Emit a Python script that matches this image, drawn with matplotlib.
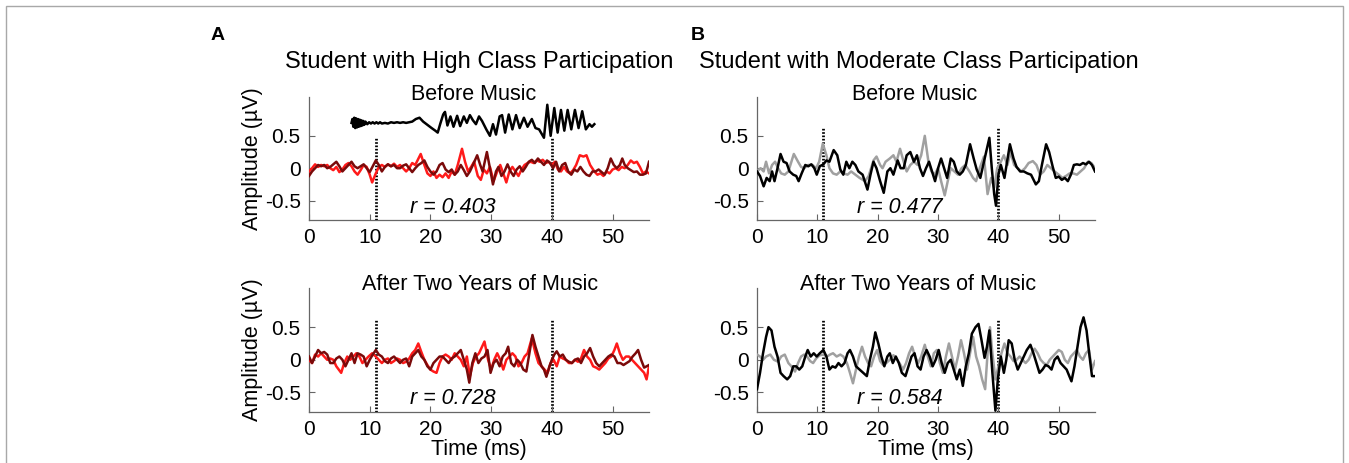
import matplotlib
matplotlib.use("Agg")
import matplotlib.pyplot as plt
from matplotlib.patches import Rectangle

plt.rcParams['font.family'] = ['Liberation Sans', 'DejaVu Sans']

# ---------------- data ----------------
xticks = [0, 10, 20, 30, 40, 50]
yticks = [-0.5, 0, 0.5]
yticklabels = ['-0.5', '0', '0.5']
marker_times = [11, 40]
panel_titles = ['Student with High Class Participation', 'Student with Moderate Class Participation']
row_titles = ['Before Music', 'After Two Years of Music']
r_values = [['r = 0.403', 'r = 0.728'], ['r = 0.477', 'r = 0.584']]

# Panel A, before music
a_pre_red_t = [0, 0.5, 1, 1.5, 2, 2.5, 3, 3.5, 4, 4.5, 5, 5.5, 6, 6.5, 7, 7.5, 8, 8.5, 9, 9.5, 10, 10.4, 11, 11.5, 12, 12.5, 13, 13.5, 14, 14.5, 15, 15.5, 16, 16.5, 17, 17.5, 18.4, 19, 19.5, 20, 20.5, 21, 21.5, 22, 22.5, 23, 23.5, 24, 24.5, 25.2, 25.7, 26.2, 26.7, 27.2, 27.8, 28.3, 28.8, 29.3, 29.8, 30.4, 31, 31.5, 32, 32.5, 33, 33.5, 34, 34.5, 35, 35.5, 36, 36.5, 37, 37.5, 38, 38.5, 39, 39.5, 40, 40.5, 41, 41.5, 42, 42.5, 43, 43.5, 44, 44.6, 45.2, 45.7, 46.3, 47, 47.5, 48, 48.5, 49, 49.5, 50, 50.5, 51, 51.5, 52, 52.5, 53, 53.5, 54, 54.5, 55, 55.5, 56]
a_pre_red_v = [-0.05, 0.0, 0.06, 0.02, 0.05, 0.03, 0.05, 0.0, -0.03, 0.02, -0.06, -0.02, 0.05, 0.08, 0.03, -0.05, -0.1, -0.03, 0.05, 0.02, -0.1, -0.22, -0.08, 0.02, 0.05, 0.02, 0.06, 0.03, 0.07, 0.02, 0.05, 0.0, -0.05, 0.0, 0.08, 0.05, 0.22, 0.05, -0.08, -0.12, -0.05, -0.15, -0.1, -0.14, -0.08, -0.15, -0.05, -0.1, 0.05, 0.3, 0.1, -0.05, 0.02, 0.1, -0.12, -0.18, -0.02, -0.08, 0.02, -0.2, -0.05, 0.05, -0.08, -0.22, -0.05, 0.02, -0.05, -0.12, -0.02, 0.05, 0.08, 0.1, 0.08, 0.12, 0.1, 0.13, 0.08, 0.1, 0.05, 0.1, -0.02, -0.05, 0.02, -0.05, -0.08, -0.03, 0.05, 0.2, 0.18, 0.2, 0.05, -0.05, -0.1, -0.08, -0.12, -0.05, -0.08, -0.02, 0.0, -0.03, 0.02, 0.0, 0.05, 0.12, 0.08, 0.1, 0.02, -0.08, -0.05, -0.08]

a_pre_dark_t = [0, 0.5, 1, 1.5, 2, 2.5, 3, 3.5, 4, 4.5, 5, 5.5, 6, 6.5, 7, 7.5, 8, 8.5, 9, 9.5, 10, 10.5, 11, 11.5, 12, 12.5, 13, 13.5, 14, 14.5, 15, 15.5, 16, 16.5, 17, 17.5, 18, 18.5, 19, 19.5, 20, 20.5, 21, 21.5, 22, 22.5, 23, 23.5, 24, 24.5, 25, 25.5, 26, 26.5, 27, 27.7, 28.2, 28.6, 29.3, 29.8, 30.3, 30.8, 31.2, 31.7, 32.2, 32.7, 33.2, 33.7, 34.2, 34.7, 35.2, 35.7, 36.2, 36.7, 37.2, 37.7, 38.2, 38.7, 39.2, 39.7, 40.2, 40.7, 41.2, 41.7, 42.2, 42.7, 43.2, 43.7, 44.2, 44.7, 45.2, 45.7, 46.2, 46.7, 47.2, 47.7, 48.2, 48.7, 49.2, 49.7, 50.2, 50.7, 51.2, 51.6, 52, 52.5, 53, 53.5, 54, 54.5, 55, 55.5, 56]
a_pre_dark_v = [-0.12, -0.05, 0.0, 0.05, 0.03, 0.05, 0.0, 0.02, 0.06, 0.1, 0.03, -0.05, 0.0, 0.05, 0.1, 0.03, 0.0, 0.03, 0.06, 0.0, -0.06, 0.03, 0.12, 0.05, -0.05, 0.02, 0.06, 0.03, 0.05, 0.0, 0.0, 0.04, 0.06, 0.0, -0.06, 0.0, 0.05, 0.08, 0.12, 0.02, -0.05, -0.1, -0.05, 0.05, 0.08, -0.02, -0.06, -0.02, -0.1, -0.05, 0.05, -0.03, -0.12, -0.05, 0.05, 0.2, 0.05, -0.05, 0.25, 0.0, -0.25, -0.05, 0.02, -0.12, -0.05, 0.06, -0.05, -0.12, -0.02, 0.03, -0.05, 0.02, 0.1, 0.13, 0.08, 0.15, 0.1, 0.05, 0.12, 0.08, 0.0, 0.1, -0.05, 0.05, 0.08, -0.05, -0.1, -0.02, -0.05, 0.02, -0.05, -0.1, -0.12, -0.05, -0.05, -0.02, -0.06, -0.1, 0.0, 0.15, 0.05, 0.0, 0.05, 0.15, 0.05, 0.0, -0.03, -0.06, -0.05, -0.1, -0.1, -0.08, 0.1]

stim_t = [7.0, 7.15, 7.3, 7.45, 7.6, 7.75, 7.9, 8.05, 8.2, 8.35, 8.5, 8.65, 8.8, 8.95, 9.1, 9.3, 9.6, 9.9, 10.2, 10.5, 10.8, 11.1, 11.4, 11.7, 12.0, 12.5, 13, 13.5, 14, 14.5, 15, 15.5, 16, 16.5, 17, 17.6, 18.2, 18.8, 19.5, 20.2, 20.8, 21.2, 21.6, 22.1, 22.4, 22.8, 23.3, 23.8, 24.4, 24.9, 25.5, 26.0, 26.5, 27.0, 27.5, 28.0, 28.5, 29.2, 29.8, 30.3, 30.8, 31.4, 31.8, 32.3, 32.9, 33.5, 34.1, 34.7, 35.4, 36.0, 36.7, 37.3, 37.9, 38.7, 39.25, 39.8, 40.4, 40.95, 41.5, 42.05, 42.6, 43.2, 43.8, 44.4, 45.0, 45.6, 46.2, 46.6, 47.0]
stim_v = [0.70, 0.76, 0.64, 0.78, 0.62, 0.77, 0.63, 0.76, 0.64, 0.75, 0.65, 0.74, 0.66, 0.73, 0.67, 0.72, 0.68, 0.71, 0.69, 0.71, 0.69, 0.71, 0.69, 0.71, 0.69, 0.70, 0.69, 0.71, 0.70, 0.71, 0.70, 0.71, 0.70, 0.71, 0.72, 0.76, 0.78, 0.72, 0.67, 0.62, 0.58, 0.55, 0.68, 0.83, 0.87, 0.66, 0.8, 0.64, 0.81, 0.65, 0.8, 0.7, 0.82, 0.74, 0.68, 0.8, 0.73, 0.6, 0.5, 0.68, 0.52, 0.8, 0.82, 0.55, 0.83, 0.6, 0.82, 0.62, 0.78, 0.64, 0.76, 0.62, 0.6, 0.47, 0.98, 0.5, 0.93, 0.55, 0.9, 0.58, 0.9, 0.6, 0.9, 0.62, 0.88, 0.6, 0.68, 0.64, 0.68]

# Panel A, after two years
a_post_red_t = [0, 0.5, 1.0, 1.5, 2.0, 2.5, 3.0, 3.5, 4.0, 4.5, 5.3, 5.8, 6.3, 6.8, 7.3, 7.8, 8.3, 8.8, 9.3, 9.8, 10.4, 11.0, 11.5, 12.0, 12.5, 13.0, 13.5, 14.0, 14.5, 15.0, 15.5, 16.0, 16.5, 17.0, 17.5, 18.0, 18.5, 19.0, 19.5, 20.0, 20.5, 21.0, 21.5, 22.0, 22.5, 23.0, 23.5, 24.0, 24.5, 25.0, 25.5, 26.0, 26.5, 27.0, 27.5, 28.0, 28.9, 29.5, 30.0, 30.5, 31.0, 31.5, 32.0, 32.5, 33.0, 33.5, 34.0, 34.5, 35.0, 35.5, 36.0, 36.7, 37.3, 37.8, 38.3, 38.8, 39.3, 39.8, 40.3, 40.8, 41.3, 41.8, 42.3, 42.8, 43.3, 43.8, 44.3, 44.8, 45.3, 45.8, 46.3, 46.8, 47.3, 47.8, 48.3, 48.8, 49.3, 49.8, 50.3, 50.7, 51.2, 51.7, 52.2, 52.7, 53.2, 53.7, 54.2, 54.7, 55.2, 55.6, 56.0]
a_post_red_v = [0.0, -0.05, 0.08, 0.05, 0.1, 0.05, 0.0, 0.02, 0.0, -0.1, -0.2, -0.05, 0.05, 0.0, 0.05, 0.1, 0.05, -0.05, 0.0, 0.05, 0.1, 0.05, 0.0, -0.05, 0.0, 0.02, -0.05, -0.02, 0.02, 0.0, -0.05, -0.03, 0.02, 0.1, 0.15, 0.25, 0.12, 0.0, -0.08, -0.15, -0.18, -0.2, -0.05, 0.05, 0.08, 0.05, 0.0, 0.1, 0.05, 0.0, -0.1, 0.05, -0.25, -0.05, 0.05, 0.1, 0.28, 0.0, -0.15, 0.0, 0.1, 0.0, -0.15, 0.0, 0.05, 0.1, 0.05, -0.1, -0.05, 0.05, 0.1, 0.33, 0.1, -0.05, -0.1, -0.15, -0.2, -0.05, 0.0, -0.1, 0.05, 0.02, 0.0, -0.05, -0.05, 0.0, -0.03, 0.02, 0.15, 0.05, 0.0, -0.1, -0.12, -0.15, -0.1, -0.05, 0.02, 0.05, 0.15, 0.25, 0.1, 0.0, 0.05, 0.05, 0.0, -0.05, -0.1, -0.15, -0.2, -0.3, -0.1]

a_post_dark_t = [0, 0.5, 1.0, 1.5, 2.0, 2.5, 3.0, 3.5, 4.0, 4.5, 5.0, 5.5, 6.0, 6.5, 7.0, 7.5, 8.0, 8.5, 9.0, 9.5, 10.0, 10.5, 11.0, 11.5, 12.0, 12.5, 13.0, 13.5, 14.0, 14.5, 15.0, 15.5, 16.0, 16.5, 17.0, 17.5, 18.0, 18.5, 19.0, 19.5, 20.0, 20.5, 21.0, 21.5, 22.0, 22.5, 23.0, 23.5, 24.0, 24.5, 25.0, 25.5, 26.0, 26.4, 26.9, 27.4, 27.9, 28.4, 28.9, 29.4, 29.9, 30.4, 30.9, 31.4, 31.9, 32.4, 32.8, 33.3, 33.8, 34.3, 34.8, 35.3, 35.8, 36.3, 36.8, 37.3, 37.8, 38.3, 38.7, 39.1, 39.6, 40.0, 40.4, 40.8, 41.3, 41.8, 42.3, 42.8, 43.3, 43.8, 44.3, 44.8, 45.3, 45.8, 46.3, 46.8, 47.3, 47.8, 48.3, 48.8, 49.3, 49.8, 50.3, 50.8, 51.3, 51.8, 52.3, 52.8, 53.3, 53.8, 54.2, 54.7, 55.2, 55.6, 56.0]
a_post_dark_v = [0.05, -0.05, 0.05, 0.15, 0.1, 0.12, 0.08, -0.05, -0.05, 0.02, 0.05, 0.0, -0.1, 0.0, 0.1, -0.05, 0.1, 0.08, 0.05, -0.1, 0.0, 0.08, 0.15, 0.08, 0.05, -0.02, -0.05, 0.02, 0.05, 0.0, -0.05, 0.0, 0.02, -0.1, 0.05, 0.1, 0.15, 0.05, 0.0, -0.1, -0.15, -0.05, 0.0, 0.05, 0.05, 0.0, -0.05, 0.02, 0.05, 0.1, 0.15, 0.0, -0.15, -0.35, -0.05, 0.1, -0.05, 0.02, 0.05, 0.15, -0.2, -0.05, 0.0, -0.1, 0.05, 0.1, 0.2, -0.05, -0.1, 0.0, -0.05, -0.15, -0.18, 0.1, 0.38, 0.2, 0.05, -0.1, -0.15, -0.26, -0.1, 0.0, 0.08, 0.13, 0.05, 0.08, 0.0, -0.03, -0.05, 0.0, 0.02, -0.05, 0.05, 0.1, 0.18, 0.05, -0.05, -0.1, -0.05, 0.0, 0.05, 0.08, 0.05, -0.05, -0.05, -0.08, -0.05, -0.02, 0.05, 0.1, 0.15, 0.0, -0.12, -0.1, -0.08]

# Panel B, before music
b_pre_black_t = [0, 0.5, 1.1, 1.6, 2.1, 2.5, 2.9, 3.4, 3.9, 4.4, 4.9, 5.4, 6.0, 6.5, 6.9, 7.4, 8.0, 8.5, 9.0, 9.5, 9.9, 10.4, 11.0, 11.5, 12.0, 12.7, 13.3, 13.8, 14.3, 14.8, 15.3, 15.8, 16.3, 16.8, 17.5, 18.3, 18.8, 19.3, 19.8, 20.4, 21.0, 21.6, 22.1, 22.6, 23.3, 23.8, 24.3, 24.8, 25.4, 26.0, 26.5, 27.0, 27.5, 28.0, 28.5, 29.0, 29.5, 30.0, 30.5, 31.0, 31.5, 32.1, 32.6, 33.1, 33.6, 34.1, 34.6, 35.3, 35.9, 36.4, 37.0, 37.6, 38.5, 38.9, 39.3, 39.6, 40.0, 40.4, 41.0, 41.9, 42.5, 43.0, 43.6, 44.2, 44.8, 45.4, 46.2, 46.7, 47.2, 47.9, 48.4, 49.0, 49.5, 50.0, 50.5, 51.0, 51.5, 52.0, 52.5, 53.0, 53.5, 54.0, 54.5, 55.0, 55.5, 56.0]
b_pre_black_v = [-0.05, -0.12, -0.28, -0.15, -0.2, -0.05, -0.2, 0.0, 0.22, 0.1, 0.08, -0.05, -0.1, -0.12, -0.2, -0.08, 0.05, 0.03, 0.06, 0.0, -0.1, 0.03, 0.06, 0.12, 0.1, 0.28, 0.2, -0.02, -0.1, 0.1, 0.0, 0.1, 0.05, -0.05, -0.1, -0.33, -0.1, 0.1, 0.0, -0.2, -0.38, -0.05, 0.0, -0.1, 0.12, 0.0, 0.0, 0.2, 0.25, 0.1, 0.2, 0.0, -0.12, 0.0, 0.1, -0.05, -0.2, 0.0, 0.15, 0.0, -0.15, 0.15, 0.1, -0.05, -0.1, -0.05, 0.05, 0.37, 0.15, -0.02, -0.15, 0.1, 0.47, 0.0, -0.4, -0.58, -0.1, 0.05, -0.15, 0.37, 0.15, 0.02, -0.05, -0.05, -0.08, -0.1, -0.25, -0.2, 0.05, 0.37, 0.25, 0.02, -0.15, -0.13, -0.18, -0.15, -0.2, -0.1, 0.05, 0.06, 0.05, 0.08, 0.06, 0.1, 0.05, -0.05]

b_pre_grey_t = [0, 0.6, 1.1, 1.5, 2.0, 2.5, 3.0, 3.5, 4.0, 4.6, 5.2, 6.1, 6.8, 7.3, 7.8, 8.5, 9.2, 9.8, 10.3, 10.9, 11.5, 12.0, 12.6, 13.2, 13.8, 14.4, 15.0, 15.6, 16.3, 17.0, 17.9, 18.5, 19.3, 19.8, 20.4, 20.8, 21.3, 22.0, 22.6, 23.1, 23.7, 24.3, 24.8, 25.4, 26.0, 26.6, 27.2, 27.8, 28.4, 28.9, 29.4, 30.0, 30.5, 31.1, 31.6, 32.1, 32.7, 33.3, 33.9, 34.5, 35.2, 35.8, 36.3, 36.9, 37.6, 38.2, 38.8, 39.3, 39.8, 40.4, 40.9, 41.5, 42.0, 42.6, 43.2, 43.8, 44.4, 45.0, 45.7, 46.3, 46.9, 47.5, 48.1, 48.7, 49.3, 50.0, 50.6, 51.2, 51.8, 52.4, 53.0, 53.6, 54.2, 54.8, 55.4, 56.0]
b_pre_grey_v = [-0.05, 0.0, -0.05, 0.1, -0.08, 0.05, 0.1, 0.0, -0.08, -0.1, -0.05, 0.22, 0.1, 0.02, 0.0, 0.05, 0.05, 0.0, 0.1, 0.38, 0.2, 0.0, -0.08, -0.1, -0.05, -0.08, -0.1, -0.05, -0.1, -0.15, -0.2, -0.12, 0.12, 0.18, 0.05, 0.0, 0.1, 0.15, 0.2, 0.1, 0.3, 0.1, -0.05, 0.05, 0.1, 0.05, 0.2, 0.5, 0.1, -0.05, -0.1, 0.0, -0.2, -0.42, -0.2, 0.0, -0.05, -0.1, 0.0, 0.05, -0.05, -0.15, -0.2, 0.0, 0.18, -0.4, -0.15, -0.3, 0.0, 0.1, 0.2, 0.05, 0.25, 0.05, 0.0, -0.05, 0.0, 0.08, 0.11, 0.05, -0.1, -0.05, 0.05, 0.0, -0.05, -0.1, -0.15, -0.12, -0.08, -0.08, -0.1, -0.05, 0.0, 0.1, 0.08, 0.0]

# Panel B, after two years
b_post_black_t = [0, 0.5, 1.0, 1.5, 1.9, 2.4, 2.9, 3.4, 3.9, 4.4, 5.0, 5.5, 6.0, 6.5, 7.0, 7.5, 8.0, 8.4, 8.9, 9.4, 9.9, 10.4, 11.0, 11.5, 12.0, 12.5, 13.0, 13.5, 14.0, 14.5, 15.0, 15.4, 15.9, 16.4, 17.0, 17.6, 18.2, 18.7, 19.2, 19.6, 20.1, 20.6, 21.1, 21.6, 22.0, 22.5, 23.0, 23.5, 24.0, 24.6, 25.1, 25.6, 26.1, 26.6, 27.1, 27.6, 28.1, 28.6, 29.1, 29.6, 30.1, 30.6, 31.1, 31.6, 32.1, 32.6, 33.1, 33.6, 34.1, 34.6, 35.1, 35.6, 36.2, 36.7, 37.2, 37.7, 38.1, 38.5, 39.0, 39.5, 39.9, 40.4, 40.9, 41.3, 41.7, 42.2, 42.7, 43.2, 43.7, 44.2, 44.7, 45.3, 45.8, 46.3, 46.8, 47.3, 47.8, 48.3, 48.8, 49.3, 49.8, 50.3, 50.8, 51.3, 52.1, 52.6, 53.1, 53.6, 54.1, 54.6, 55.1, 55.5, 56.0]
b_post_black_v = [-0.45, -0.2, 0.1, 0.35, 0.5, 0.45, 0.2, 0.05, -0.2, -0.25, -0.3, -0.25, -0.1, -0.1, -0.15, -0.1, 0.05, 0.15, 0.05, 0.1, 0.05, 0.1, 0.15, 0.05, -0.15, -0.1, -0.12, -0.05, -0.1, -0.05, 0.1, 0.15, 0.05, -0.1, -0.15, -0.2, -0.25, 0.0, 0.2, 0.42, 0.25, 0.05, -0.1, 0.05, 0.1, -0.05, 0.05, -0.05, -0.2, -0.25, -0.1, 0.05, 0.1, -0.1, -0.15, 0.05, 0.15, 0.05, -0.1, 0.0, 0.15, -0.05, -0.2, -0.05, 0.0, -0.15, -0.3, -0.15, -0.4, -0.1, 0.1, 0.4, 0.5, 0.55, 0.3, 0.03, 0.2, 0.45, -0.2, -0.78, -0.3, 0.05, -0.2, 0.0, 0.3, 0.25, 0.0, -0.15, -0.05, 0.05, 0.15, 0.23, 0.1, -0.05, -0.2, -0.15, -0.08, -0.1, -0.15, 0.0, 0.05, -0.05, -0.1, -0.15, -0.33, -0.1, 0.2, 0.5, 0.65, 0.45, 0.05, -0.25, -0.25]

b_post_grey_t = [0, 0.5, 1.0, 1.5, 2.2, 2.8, 3.5, 4.0, 4.6, 5.2, 5.7, 6.3, 6.8, 7.3, 7.8, 8.3, 8.8, 9.3, 9.8, 10.4, 11.0, 11.6, 12.1, 12.6, 13.2, 13.8, 14.3, 14.9, 15.4, 15.9, 16.4, 16.9, 17.4, 17.9, 18.4, 18.9, 19.4, 19.9, 20.4, 20.9, 21.4, 22.0, 22.6, 23.1, 23.6, 24.2, 24.7, 25.2, 25.7, 26.2, 26.7, 27.2, 27.8, 28.3, 28.8, 29.3, 29.8, 30.3, 30.8, 31.3, 31.8, 32.3, 32.8, 33.3, 33.8, 34.3, 34.8, 35.3, 35.8, 36.3, 36.8, 37.3, 37.8, 38.2, 38.6, 39.0, 39.5, 40.0, 40.5, 41.0, 41.5, 42.0, 42.5, 43.0, 43.5, 44.0, 44.5, 45.0, 45.5, 46.0, 46.5, 47.0, 47.5, 48.0, 48.5, 49.0, 49.5, 50.0, 50.5, 51.0, 51.5, 52.0, 52.5, 53.0, 53.5, 54.0, 54.5, 55.0, 55.5, 56.0]
b_post_grey_v = [0.08, 0.05, 0.0, 0.05, 0.08, 0.0, -0.03, 0.05, 0.08, -0.05, -0.1, -0.18, -0.05, 0.05, 0.08, 0.05, -0.02, -0.05, 0.02, 0.07, 0.08, 0.05, 0.08, 0.1, 0.05, 0.08, 0.05, -0.05, -0.2, -0.36, -0.15, 0.05, 0.2, 0.05, -0.05, -0.1, 0.05, 0.15, -0.02, -0.08, -0.05, 0.0, 0.07, 0.02, -0.05, -0.15, -0.05, 0.1, 0.2, 0.05, -0.05, 0.05, 0.23, 0.05, -0.1, 0.1, 0.15, -0.05, -0.2, 0.05, 0.25, 0.05, -0.15, 0.05, 0.3, 0.1, -0.15, 0.1, 0.35, 0.05, -0.1, -0.3, -0.45, 0.1, 0.5, 0.1, -0.3, -0.1, 0.1, 0.25, 0.1, 0.05, -0.02, 0.0, 0.05, 0.0, -0.05, 0.0, 0.1, 0.17, 0.1, 0.0, -0.05, -0.08, 0.0, 0.05, 0.1, 0.15, 0.12, 0.0, -0.05, 0.05, 0.1, 0.15, 0.05, 0.0, 0.1, 0.15, -0.15, -0.02]

# ---------------- figure ----------------
W, H = 1349, 463
fig = plt.figure(figsize=(W / 100, H / 100), dpi=100)

def fx(px):
    return px / W

def fy(py):
    return 1 - py / H

# figure frame
fig.patches.append(Rectangle((fx(6), fy(470)), fx(1343) - fx(6), fy(6) - fy(470),
                             transform=fig.transFigure, fill=False,
                             edgecolor='#a8a8a8', linewidth=1.0))

axes_px = {  # left, right, top, bottom in pixels
    (0, 0): (309, 649, 97, 220),
    (0, 1): (309, 649, 288, 412),
    (1, 0): (757, 1095, 97, 220),
    (1, 1): (757, 1095, 288, 412),
}

series = {
    (0, 0): [(a_pre_red_t, a_pre_red_v, '#ff1a1a'), (a_pre_dark_t, a_pre_dark_v, '#7a0a0a')],
    (0, 1): [(a_post_red_t, a_post_red_v, '#ff1a1a'), (a_post_dark_t, a_post_dark_v, '#7a0a0a')],
    (1, 0): [(b_pre_grey_t, b_pre_grey_v, '#a0a0a0'), (b_pre_black_t, b_pre_black_v, '#000000')],
    (1, 1): [(b_post_grey_t, b_post_grey_v, '#a0a0a0'), (b_post_black_t, b_post_black_v, '#000000')],
}

vline_top = {(0, 0): 0.47, (0, 1): 0.63, (1, 0): 0.62, (1, 1): 0.63}

for (p, r), (l, rr, t, b) in axes_px.items():
    ax = fig.add_axes([fx(l), fy(b), fx(rr) - fx(l), fy(t) - fy(b)])
    ax.set_xlim(0, 56)
    ax.set_ylim(-0.8, 1.1)
    for key in ['top', 'right']:
        ax.spines[key].set_visible(False)
    for key in ['left', 'bottom']:
        ax.spines[key].set_color('#666666')
        ax.spines[key].set_linewidth(0.9)
    ax.set_xticks(xticks)
    ax.set_yticks(yticks)
    ax.set_yticklabels(yticklabels)
    ax.tick_params(direction='in', length=4, width=0.8, color='#666666',
                   labelsize=15, pad=6)
    ax.set_facecolor('none')

    for mt in marker_times:
        ax.plot([mt, mt], [-0.8, vline_top[(p, r)]], color='black', linewidth=2.0,
                dashes=(0.6, 0.6), zorder=1)

    for ts, vs, col in series[(p, r)]:
        ax.plot(ts, vs, color=col, linewidth=1.8, zorder=3, solid_joinstyle='round')

    if (p, r) == (0, 0):
        ax.plot(stim_t, stim_v, color='black', linewidth=1.8, zorder=3,
                solid_joinstyle='round', clip_on=False)

    ax.text(16.6, -0.6, r_values[p][r], fontsize=15.5, style='italic',
            ha='left', va='center')

    if p == 0:
        ax.set_ylabel('Amplitude (\u00b5V)', fontsize=15.5, labelpad=1)
    if r == 1:
        ax.set_xlabel('Time (ms)', fontsize=15.5, labelpad=0)

# titles and subtitles
fig.text(fx(479), fy(62), panel_titles[0], fontsize=17, ha='center', va='center')
fig.text(fx(919), fy(62), panel_titles[1], fontsize=17, ha='center', va='center')
fig.text(fx(474), fy(95), row_titles[0], fontsize=15.5, ha='center', va='center')
fig.text(fx(915), fy(95), row_titles[0], fontsize=15.5, ha='center', va='center')
fig.text(fx(480), fy(285), row_titles[1], fontsize=15.5, ha='center', va='center')
fig.text(fx(918), fy(285), row_titles[1], fontsize=15.5, ha='center', va='center')

fig.text(fx(211), fy(36), 'A', fontsize=14, fontweight='bold', ha='left', va='center')
fig.text(fx(691), fy(36), 'B', fontsize=14, fontweight='bold', ha='left', va='center')

fig.savefig('out.png', dpi=100, facecolor='white')
